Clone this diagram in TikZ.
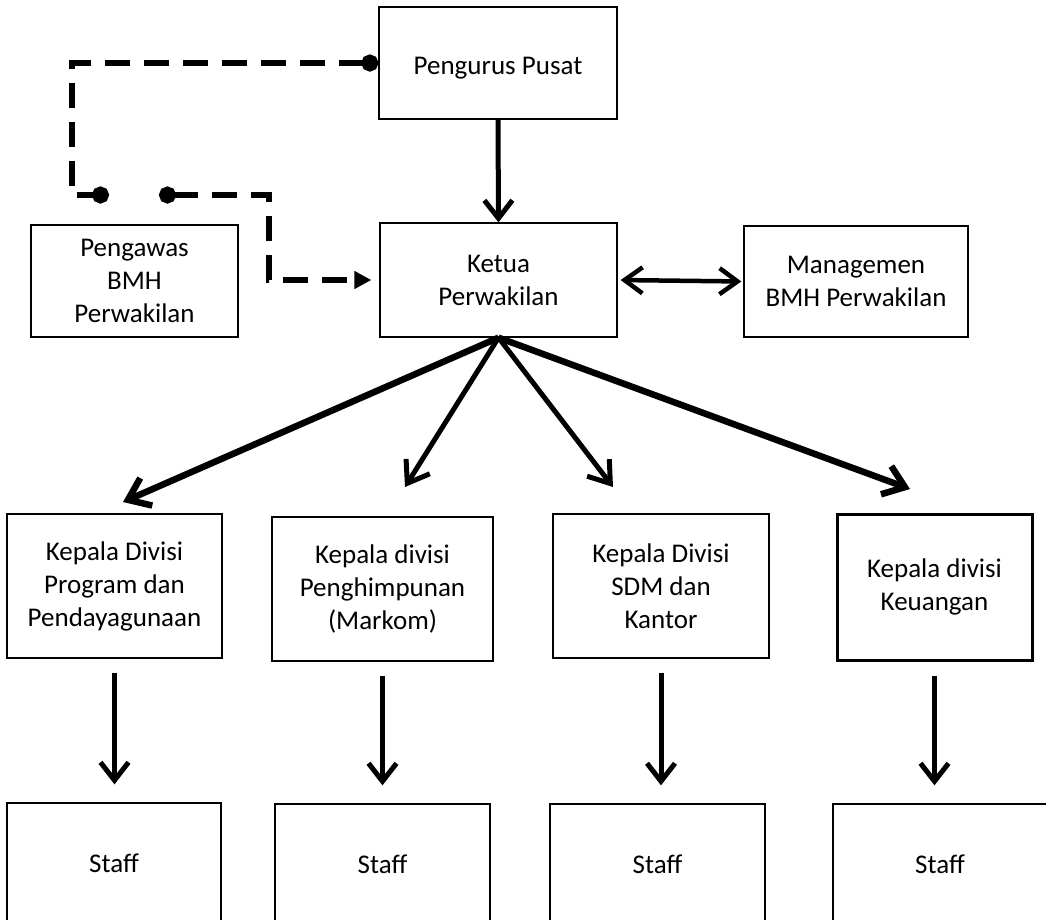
\documentclass[tikz,border=0pt]{standalone}
\usepackage{fontspec}
\setmainfont{Carlito}
\usetikzlibrary{arrows.meta}
\tikzset{
  plainbox/.style={draw, line width=1.3pt, align=center, inner sep=0pt, font=\fontsize{27}{33}\selectfont},
  box/.style={plainbox, execute at begin node={\rule{0pt}{28pt}}},
  thickbox/.style={box, line width=3pt},
  arr/.style={line width=5pt, -{Straight Barb[length=18pt,width=28pt]}},
  fanthick/.style={line width=6.5pt, -{Straight Barb[length=20pt,width=30pt]}},
  fanthin/.style={line width=5pt, -{Straight Barb[length=20pt,width=28pt]}},
  dblarr/.style={line width=4.5pt, {Straight Barb[length=18pt,width=26pt]}-{Straight Barb[length=18pt,width=26pt]}},
  dashline/.style={line width=6pt, dash pattern=on 25pt off 14pt}
}
\begin{document}
\begin{tikzpicture}[x=1pt,y=-1pt]
\useasboundingbox (0,0) rectangle (1046,919);
\clip (0,0) rectangle (1046,919);
% top nodes
\node[box, minimum width=238pt, minimum height=112pt] (pp) at (498,63) {Pengurus Pusat};
\node[box, minimum width=237pt, minimum height=114pt] (kp) at (498.5,280) {Ketua\\Perwakilan};
\node[box, minimum width=207pt, minimum height=112pt] (pw) at (134.5,281) {Pengawas\\BMH\\Perwakilan};
\node[box, minimum width=224pt, minimum height=111pt] (mg) at (856,281.5) {Managemen\\BMH Perwakilan};
% division heads
\node[box, minimum width=215pt, minimum height=144pt] (d1) at (114.5,586) {Kepala Divisi\\Program dan\\Pendayagunaan};
\node[box, minimum width=221pt, minimum height=144pt] (d2) at (382.5,589) {Kepala divisi\\Penghimpunan\\(Markom)};
\node[box, minimum width=216pt, minimum height=144pt] (d3) at (661,586) {Kepala Divisi\\SDM dan\\Kantor};
\node[thickbox, minimum width=195pt, minimum height=146pt] (d4) at (934.5,587) {Kepala divisi\\Keuangan};
% staff
\node[plainbox, minimum width=214pt, minimum height=120pt] (s1) at (114,863) {Staff};
\node[plainbox, minimum width=215pt, minimum height=120pt] (s2) at (382.5,864) {Staff};
\node[plainbox, minimum width=215pt, minimum height=120pt] (s3) at (657.5,864) {Staff};
\node[plainbox, minimum width=214pt, minimum height=120pt] (s4) at (940,864) {Staff};
% free-end coordinates
\coordinate (c1) at (72,195);
\coordinate (c2) at (109,195);
\coordinate (c3) at (159,195);
\coordinate (c4) at (269,195);
\coordinate (t1) at (123,502);
\coordinate (t2) at (405,487);
\coordinate (t3) at (613,487);
\coordinate (t4) at (910,489);
% connectors
\draw[arr] (pp.south) -- (kp.north);
\draw[dblarr, shorten <=3pt, shorten >=2pt] (kp.east) -- (mg.west);
\draw[dashline, {Circle[length=17pt]}-{Circle[length=17pt]}] (pp.west) -| (c1) -- (c2);
\draw[dashline, {Circle[length=17pt]}-{Triangle[length=17pt,width=17pt]}, shorten >=8pt] (c3) -- (c4) |- (kp.west);
\draw[fanthick] (kp.south) -- (t1);
\draw[fanthin] (kp.south) -- (t2);
\draw[fanthin] (kp.south) -- (t3);
\draw[fanthick] (kp.south) -- (t4);
\foreach \i in {1,2,3,4}{
  \draw[arr, shorten <=14pt, shorten >=18pt] (d\i.south) -- (d\i.south |- s\i.north);
}
\end{tikzpicture}
\end{document}
